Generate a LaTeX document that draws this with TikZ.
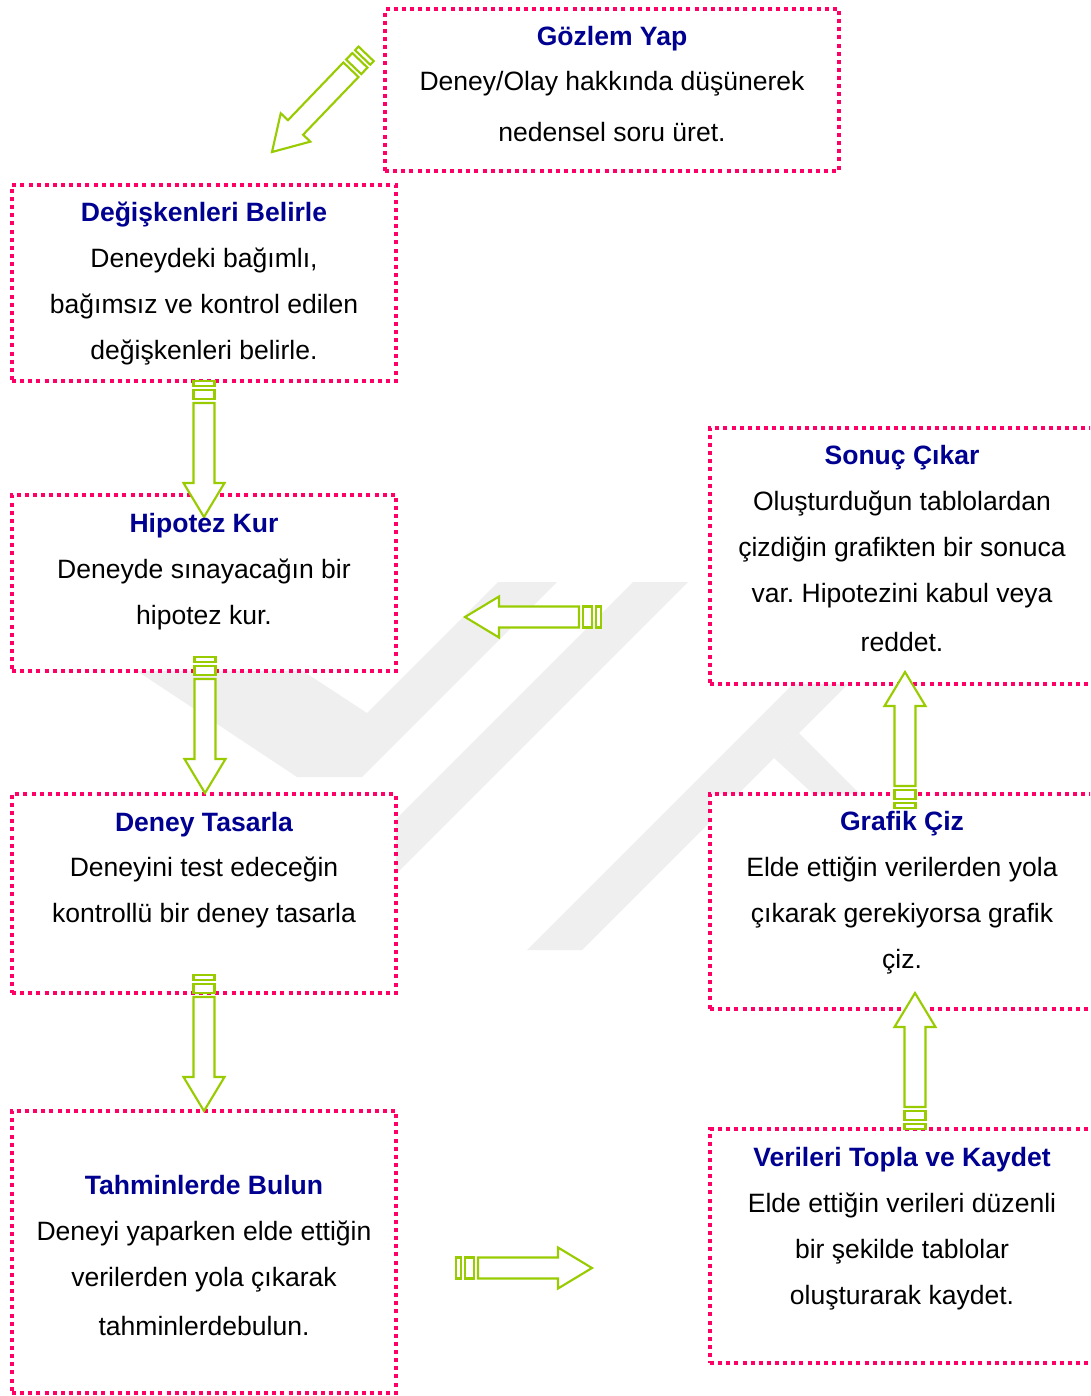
\documentclass[tikz,border=0pt]{standalone}
\usepackage{fontspec}
\setmainfont{Liberation Sans}
\usetikzlibrary{calc}
\frenchspacing
\definecolor{boxpink}{RGB}{255,0,102}
\definecolor{ttlblue}{RGB}{0,0,145}
\definecolor{arrgreen}{RGB}{153,204,0}
\definecolor{wmgray}{RGB}{239,239,239}
\newcommand\blockarrow[2]{%
  \path let \p1=($(#2)-(#1)$), \n1={atan2(\y1,\x1)} in \pgfextra{\xdef\arang{\n1}};
  \begin{scope}[shift={(#2)}, rotate=\arang]
    \draw[arrowline] (0,0) -- (-34,20.5) -- (-34,10.5) -- (-114,10.5) -- (-114,-10.5) -- (-34,-10.5) -- (-34,-20.5) -- cycle;
    \draw[arrowline] (-118,-10.5) rectangle (-127,10.5);
    \draw[arrowline] (-131,-10.5) rectangle (-136,10.5);
  \end{scope}}
\tikzset{
  stagebox/.style={draw=boxpink, fill=white, line width=3pt, dash pattern=on 3pt off 3.1pt, inner sep=0pt, outer sep=0pt},
  arrowline/.style={draw=arrgreen, fill=white, line width=1.6pt, line join=miter},
  txt/.style={anchor=base, inner sep=0pt, font=\fontsize{19.9pt}{24pt}\selectfont},
  ttl/.style={txt, text=ttlblue, font=\fontsize{19.9pt}{24pt}\selectfont\bfseries}
}
\begin{document}
\begin{tikzpicture}[x=0.75pt, y=-0.75pt]
\useasboundingbox (0,0) rectangle (1090,1396);
\clip (0,0) rectangle (1090,1396);
% watermark
\fill[wmgray] (60,620) -- (297,777) -- (362,777) -- (557,582) -- (498,582) -- (367,713) -- (280,656) -- cycle;
\fill[wmgray] (633,582) -- (688,582) -- (320,950) -- (265,950) -- cycle;
\fill[wmgray] (895,582) -- (950,582) -- (582,950) -- (527,950) -- cycle;
\fill[wmgray] (799,733) -- (880,814) -- (835,814) -- (774,758) -- cycle;
% boxes
\node[stagebox, minimum width=340.5pt, minimum height=121.5pt] (gozlem) at (612,90) {};
\node[stagebox, minimum width=288pt, minimum height=147pt] (degisken) at (204,283) {};
\node[stagebox, minimum width=288pt, minimum height=132pt] (hipotez) at (204,583) {};
\node[stagebox, minimum width=288pt, minimum height=149.25pt] (tasarla) at (204,893.5) {};
\node[stagebox, minimum width=288pt, minimum height=211.5pt] (tahmin) at (204,1252) {};
\node[stagebox, minimum width=288.75pt, minimum height=192pt] (sonuc) at (902.5,556) {};
\node[stagebox, minimum width=288.75pt, minimum height=161.25pt] (grafik) at (902.5,901.5) {};
\node[stagebox, minimum width=288.75pt, minimum height=175.5pt] (veriler) at (902.5,1246) {};
% arrows
\coordinate (a1s) at (366,54);   \coordinate (a1e) at (272,152);
\coordinate (a2s) at (204,381);  \coordinate (a2e) at (204,517);
\coordinate (a3s) at (205,657);  \coordinate (a3e) at (205,793);
\coordinate (a4s) at (204,975);  \coordinate (a4e) at (204,1111);
\coordinate (a5s) at (601,617);  \coordinate (a5e) at (465,617);
\coordinate (a6s) at (456,1268); \coordinate (a6e) at (592,1268);
\coordinate (a7s) at (905,808);  \coordinate (a7e) at (905,672);
\coordinate (a8s) at (915,1129); \coordinate (a8e) at (915,993);
\blockarrow{a1s}{a1e}
\blockarrow{a2s}{a2e}
\blockarrow{a3s}{a3e}
\blockarrow{a4s}{a4e}
\blockarrow{a5s}{a5e}
\blockarrow{a6s}{a6e}
\blockarrow{a7s}{a7e}
\blockarrow{a8s}{a8e}
% texts
\node[ttl] (gozlem-t) at (612,45) {Gözlem Yap};
\node[txt] (gozlem-1) at (612,90) {Deney/Olay hakkında düşünerek};
\node[txt] (gozlem-2) at (612,141) {nedensel soru üret.};

\node[ttl] (degisken-t) at (204,221) {Değişkenleri Belirle};
\node[txt] (degisken-1) at (204,267) {Deneydeki bağımlı,};
\node[txt] (degisken-2) at (204,313) {bağımsız ve kontrol edilen};
\node[txt] (degisken-3) at (204,359) {değişkenleri belirle.};

\node[ttl] (hipotez-t) at (204,532) {Hipotez Kur};
\node[txt] (hipotez-1) at (204,578) {Deneyde sınayacağın bir};
\node[txt] (hipotez-2) at (204,624) {hipotez kur.};

\node[ttl] (tasarla-t) at (204,831) {Deney Tasarla};
\node[txt] (tasarla-1) at (204,876) {Deneyini test edeceğin};
\node[txt] (tasarla-2) at (204,922) {kontrollü bir deney tasarla};

\node[ttl] (tahmin-t) at (204,1194) {Tahminlerde Bulun};
\node[txt] (tahmin-1) at (204,1240) {Deneyi yaparken elde ettiğin};
\node[txt] (tahmin-2) at (204,1286) {verilerden yola çıkarak};
\node[txt] (tahmin-3) at (204,1335) {tahminlerdebulun.};

\node[ttl] (sonuc-t) at (902,464) {Sonuç Çıkar};
\node[txt] (sonuc-1) at (902,510) {Oluşturduğun tablolardan};
\node[txt] (sonuc-2) at (902,556) {çizdiğin grafikten bir sonuca};
\node[txt] (sonuc-3) at (902,602) {var. Hipotezini kabul veya};
\node[txt] (sonuc-4) at (902,651) {reddet.};

\node[ttl] (grafik-t) at (902,830) {Grafik Çiz};
\node[txt] (grafik-1) at (902,876) {Elde ettiğin verilerden yola};
\node[txt] (grafik-2) at (902,922) {çıkarak gerekiyorsa grafik};
\node[txt] (grafik-3) at (902,968) {çiz.};

\node[ttl] (veriler-t) at (902,1166) {Verileri Topla ve Kaydet};
\node[txt] (veriler-1) at (902,1212) {Elde ettiğin verileri düzenli};
\node[txt] (veriler-2) at (902,1258) {bir şekilde tablolar};
\node[txt] (veriler-3) at (902,1304) {oluşturarak kaydet.};
\end{tikzpicture}
\end{document}
